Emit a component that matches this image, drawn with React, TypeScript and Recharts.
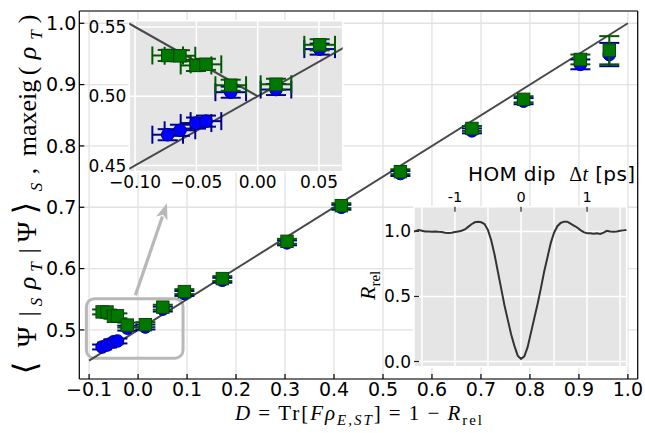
import React from 'react';
import { ScatterChart, Scatter, XAxis, YAxis, CartesianGrid, ErrorBar, ReferenceArea, ReferenceLine } from 'recharts';

// ---- data ----
const dValues = [-0.0734, -0.0634, -0.0503, -0.0422, -0.022, 0.0149, 0.0505, 0.0945, 0.172, 0.304, 0.415, 0.5355, 0.6816, 0.787, 0.903, 0.962];
const maxeigValues = [0.5294, 0.5292, 0.5222, 0.523, 0.5079, 0.5086, 0.5371, 0.5625, 0.5837, 0.6445, 0.7026, 0.758, 0.8285, 0.876, 0.941, 0.956];
const fidelityValues = [0.4722, 0.4754, 0.4806, 0.482, 0.5029, 0.5048, 0.534, 0.5595, 0.581, 0.642, 0.7, 0.755, 0.8246, 0.873, 0.933, 0.949];
const dErrors = [0.0125, 0.0125, 0.0125, 0.0125, 0.0125, 0.0125, 0.0125, 0.0125, 0.0125, 0.0125, 0.0125, 0.0125, 0.0125, 0.0125, 0.0125, 0.0125];
const maxeigErrors = [0.004, 0.004, 0.004, 0.004, 0.004, 0.004, 0.004, 0.004, 0.004, 0.004, 0.004, 0.004, 0.004, 0.005, 0.008, 0.023];
const fidelityErrors = [0.004, 0.004, 0.004, 0.004, 0.004, 0.004, 0.004, 0.004, 0.004, 0.004, 0.004, 0.004, 0.004, 0.005, 0.008, 0.019];

const diagX = [-0.1, 1.0];
const diagY = [0.45, 1.0];
const insetUpX = [-0.11, 0.075];
const insetUpY = [0.445, 0.5375];
const insetDownX = [-0.11, 0.0];
const insetDownY = [0.555, 0.5];

const homT = [-1.62, -1.55, -1.5, -1.45, -1.4, -1.35, -1.3, -1.25, -1.2, -1.15, -1.1, -1.05, -1.0, -0.95, -0.9, -0.85, -0.8, -0.75, -0.7, -0.65, -0.6, -0.55, -0.5, -0.45, -0.4, -0.35, -0.3, -0.25, -0.2, -0.15, -0.1, -0.05, 0, 0.05, 0.1, 0.15, 0.2, 0.25, 0.3, 0.35, 0.4, 0.45, 0.5, 0.55, 0.6, 0.65, 0.7, 0.75, 0.8, 0.85, 0.9, 0.95, 1.0, 1.05, 1.1, 1.15, 1.2, 1.25, 1.3, 1.35, 1.4, 1.45, 1.5, 1.55, 1.6];
const homR = [1.0, 1.01, 1.005, 1.0, 1.0, 0.998, 1.0, 0.997, 0.995, 0.99, 0.987, 0.99, 0.995, 1.0, 1.005, 1.015, 1.035, 1.055, 1.07, 1.075, 1.07, 1.055, 1.01, 0.93, 0.82, 0.69, 0.56, 0.43, 0.32, 0.21, 0.12, 0.045, 0.02, 0.04, 0.11, 0.22, 0.33, 0.44, 0.56, 0.69, 0.8, 0.91, 0.99, 1.04, 1.065, 1.075, 1.075, 1.06, 1.045, 1.03, 1.01, 0.995, 0.985, 0.985, 0.983, 0.985, 0.98, 0.99, 1.005, 1.0, 0.998, 1.0, 1.005, 1.008, 1.01];

const mainXTicks = [-0.1, 0, 0.1, 0.2, 0.3, 0.4, 0.5, 0.6, 0.7, 0.8, 0.9, 1.0];
const mainYTicks = [0.5, 0.6, 0.7, 0.8, 0.9, 1.0];
const insetXTicks = [-0.1, -0.05, 0, 0.05];
const insetYTicks = [0.45, 0.5, 0.55];
const homXTicks = [-1, 0, 1];
const homGridTicks = [-1.5, -1, -0.5, 0, 0.5, 1, 1.5];
const homYTicks = [0, 0.5, 1.0];

const mainXDomain = [-0.12, 1.02];
const mainYDomain = [0.42, 1.02];
const insetXDomain = [-0.1047, 0.0693];
const insetYDomain = [0.4455, 0.5545];
const homXDomain = [-1.62, 1.6];
const homYDomain = [-0.04, 1.19];

const zoomBoxX = [-0.1055, 0.0918];
const zoomBoxY = [0.454, 0.551];
const arrowFrom = { x: -0.0055, y: 0.5565 };
const arrowTo = { x: 0.059, y: 0.7064 };

// ---- derived tables ----
const pts = (ys: number[], es: number[]) => dValues.map((x, i) => ({ x, y: ys[i], ex: dErrors[i], ey: es[i] }));
const maxeigPts = pts(maxeigValues, maxeigErrors);
const fidelityPts = pts(fidelityValues, fidelityErrors);
const insetMax = maxeigPts.filter((p) => p.x < insetXDomain[1]);
const insetFid = fidelityPts.filter((p) => p.x < insetXDomain[1]);
const line = (xs: number[], ys: number[]) => xs.map((x, i) => ({ x, y: ys[i] }));
const diag = line(diagX, diagY);
const insetUp = line(insetUpX, insetUpY);
const insetDown = line(insetDownX, insetDownY);
const hom = line(homT, homR);

const fmt = (d: number) => (v: number) => v.toFixed(d).replace('-', '\u2212');
const SANS = 'DejaVu Sans';
const SERIF = "'Liberation Serif', 'DejaVu Serif', serif";

const BLUE = '#0000ff';
const BLUE_EDGE = '#00008b';
const GREEN = '#007800';
const GREEN_EDGE = '#0a450a';
const BLUE_ERR = '#00008b';
const GREEN_ERR = '#005a00';

const Circle = (p: any) => <circle cx={p.cx} cy={p.cy} r={6.3} fill={BLUE} stroke={BLUE_EDGE} strokeWidth={1} />;
const Square = (p: any) => (
  <rect x={p.cx - 6.2} y={p.cy - 6.2} width={12.4} height={12.4} fill={GREEN} stroke={GREEN_EDGE} strokeWidth={1} />
);
const NoShape = () => <g />;

const RoundBox = (p: any) => (
  <rect x={p.x} y={p.y} width={p.width} height={p.height} rx={8} ry={8} fill="none" stroke="#b8b8b8" strokeWidth={3} />
);
const Arrow = (p: any) => {
  const { x1, y1, x2, y2 } = p;
  const dx = x2 - x1;
  const dy = y2 - y1;
  const len = Math.sqrt(dx * dx + dy * dy) || 1;
  const ux = dx / len;
  const uy = dy / len;
  const hl = 16;
  const hw = 6;
  const bx = x2 - ux * hl;
  const by = y2 - uy * hl;
  return (
    <g>
      <line x1={x1} y1={y1} x2={bx + ux * 2} y2={by + uy * 2} stroke="#b8b8b8" strokeWidth={3.2} />
      <polygon
        points={`${x2},${y2} ${bx - uy * hw},${by + ux * hw} ${bx + ux * 4},${by + uy * 4} ${bx + uy * hw},${by - ux * hw}`}
        fill="#b8b8b8"
      />
    </g>
  );
};

const mainTick = { fontSize: 19, fill: '#000', fontFamily: SANS };
const insetTick = { fontSize: 17, fill: '#000', fontFamily: SANS };
const axisStroke = { stroke: '#000', strokeWidth: 1.2 };

const layer: React.CSSProperties = { position: 'absolute', left: 0, top: 0 };

type Rect = { left: number; top: number; right: number; bottom: number };
const MAIN_RECT: Rect = { left: 79.3, top: 11, right: 637.7, bottom: 379 };
const INSET_RECT: Rect = { left: 129.3, top: 20.7, right: 342.7, bottom: 171.7 };

// A transparent overlay chart sharing the plot rectangle, used to stack series in matplotlib order
function PlotLayer({ rect, xDomain, yDomain, children }: { rect: Rect; xDomain: number[]; yDomain: number[]; children: React.ReactNode }) {
  return (
    <div style={layer}>
      <ScatterChart width={645} height={433} margin={{ top: rect.top, left: rect.left, right: 645 - rect.right, bottom: 433 - rect.bottom }}>
        <XAxis hide type="number" dataKey="x" domain={xDomain} allowDataOverflow />
        <YAxis hide type="number" dataKey="y" domain={yDomain} allowDataOverflow />
        {children}
      </ScatterChart>
    </div>
  );
}

function SeriesStack({ rect, xDomain, yDomain, fid, max, xErr }: { rect: Rect; xDomain: number[]; yDomain: number[]; fid: any[]; max: any[]; xErr: boolean }) {
  return (
    <>
      <PlotLayer rect={rect} xDomain={xDomain} yDomain={yDomain}>
        <Scatter data={fid} shape={NoShape} isAnimationActive={false}>
          {xErr ? <ErrorBar dataKey="ex" direction="x" width={9} stroke={BLUE_ERR} strokeWidth={2} /> : null}
          <ErrorBar dataKey="ey" direction="y" width={10} stroke={BLUE_ERR} strokeWidth={2} />
        </Scatter>
      </PlotLayer>
      <PlotLayer rect={rect} xDomain={xDomain} yDomain={yDomain}>
        <Scatter data={fid} shape={Circle} isAnimationActive={false} />
      </PlotLayer>
      <PlotLayer rect={rect} xDomain={xDomain} yDomain={yDomain}>
        <Scatter data={max} shape={NoShape} isAnimationActive={false}>
          {xErr ? <ErrorBar dataKey="ex" direction="x" width={9} stroke={GREEN_ERR} strokeWidth={2} /> : null}
          <ErrorBar dataKey="ey" direction="y" width={10} stroke={GREEN_ERR} strokeWidth={2} />
        </Scatter>
      </PlotLayer>
      <PlotLayer rect={rect} xDomain={xDomain} yDomain={yDomain}>
        <Scatter data={max} shape={Square} isAnimationActive={false} />
      </PlotLayer>
    </>
  );
}

export default function App() {
  return (
    <div style={{ position: 'absolute', left: 0, top: 0, width: 645, height: 433, background: '#fff', overflow: 'hidden' }}>
      {/* main chart: frame, grid, ticks, diagonal, zoom box, arrow */}
      <div style={layer}>
        <ScatterChart width={645} height={433} margin={{ top: 6, right: 2.3, bottom: 14, left: 19.3 }}>
          <CartesianGrid stroke="#e2e2e2" strokeWidth={1.3} />
          <XAxis type="number" dataKey="x" domain={mainXDomain} ticks={mainXTicks} allowDataOverflow height={40}
            tickSize={-5} tickMargin={9} tickFormatter={fmt(1)} tick={mainTick} axisLine={axisStroke} tickLine={axisStroke} />
          <XAxis xAxisId="top" orientation="top" type="number" dataKey="x" domain={mainXDomain} ticks={mainXTicks} allowDataOverflow
            height={5} tickSize={-5} tick={false} axisLine={axisStroke} tickLine={axisStroke} />
          <YAxis type="number" dataKey="y" domain={mainYDomain} ticks={mainYTicks} allowDataOverflow width={60}
            tickSize={-5} tickMargin={8} tickFormatter={fmt(1)} tick={mainTick} axisLine={axisStroke} tickLine={axisStroke} />
          <YAxis yAxisId="right" orientation="right" type="number" dataKey="y" domain={mainYDomain} ticks={mainYTicks} allowDataOverflow
            width={5} tickSize={-5} tick={false} axisLine={axisStroke} tickLine={axisStroke} />
          <ReferenceArea x1={zoomBoxX[0]} x2={zoomBoxX[1]} y1={zoomBoxY[0]} y2={zoomBoxY[1]} shape={RoundBox} fill="none" />
          <ReferenceLine segment={[arrowFrom, arrowTo]} shape={Arrow} />
          <Scatter data={diag} line={{ stroke: '#484848', strokeWidth: 2 }} shape={NoShape} isAnimationActive={false} />
        </ScatterChart>
      </div>
      <SeriesStack rect={MAIN_RECT} xDomain={mainXDomain} yDomain={mainYDomain} fid={fidelityPts} max={maxeigPts} xErr={false} />

      {/* zoom inset */}
      <div style={layer}>
        <ScatterChart width={645} height={433} margin={{ top: 20.7, right: 302.3, bottom: 231.3, left: 89.3 }}>
          <CartesianGrid fill="#e5e5e5" fillOpacity={1} stroke="#ffffff" strokeWidth={1.5} />
          <XAxis type="number" dataKey="x" domain={insetXDomain} ticks={insetXTicks} allowDataOverflow height={30}
            tickSize={0} tickMargin={4} tickFormatter={fmt(2)} tick={insetTick} axisLine={false} tickLine={false} />
          <YAxis type="number" dataKey="y" domain={insetYDomain} ticks={insetYTicks} allowDataOverflow width={40}
            tickSize={0} tickMargin={3} tickFormatter={fmt(2)} tick={insetTick} axisLine={false} tickLine={false} />
          <Scatter data={insetUp} line={{ stroke: '#484848', strokeWidth: 2 }} shape={NoShape} isAnimationActive={false} />
          <Scatter data={insetDown} line={{ stroke: '#484848', strokeWidth: 2 }} shape={NoShape} isAnimationActive={false} />
          <ReferenceArea fill="none" fillOpacity={0} stroke="#1a1a1a" strokeWidth={1.5} />
        </ScatterChart>
      </div>
      <SeriesStack rect={INSET_RECT} xDomain={insetXDomain} yDomain={insetYDomain} fid={insetFid} max={insetMax} xErr={true} />

      {/* HOM inset */}
      <div style={layer}>
        <ScatterChart width={645} height={433} margin={{ top: 176.7, right: 18.3, bottom: 66.3, left: 374 }}>
          <CartesianGrid xAxisId="grid" fill="#e5e5e5" fillOpacity={1} stroke="#ffffff" strokeWidth={1.5} />
          <XAxis xAxisId="grid" type="number" dataKey="x" domain={homXDomain} ticks={homGridTicks} allowDataOverflow hide />
          <XAxis xAxisId="lab" orientation="top" type="number" dataKey="x" domain={homXDomain} ticks={homXTicks} allowDataOverflow
            height={30} tickSize={-5} tickMargin={10} tick={{ fontSize: 14.5, fill: '#000', fontFamily: SANS }}
            axisLine={false} tickLine={{ stroke: '#222', strokeWidth: 1.2 }} />
          <YAxis type="number" dataKey="y" domain={homYDomain} ticks={homYTicks} allowDataOverflow width={40}
            tickSize={-5} tickMargin={8} tickFormatter={fmt(1)} tick={insetTick} axisLine={false}
            tickLine={{ stroke: '#222', strokeWidth: 1.2 }} />
          <Scatter xAxisId="lab" data={hom} line={{ stroke: '#333', strokeWidth: 2 }} shape={NoShape} isAnimationActive={false} />
          <ReferenceArea xAxisId="lab" fill="none" fillOpacity={0} stroke="#1a1a1a" strokeWidth={1.5} />
        </ScatterChart>
      </div>

      {/* axis titles */}
      <svg width={645} height={433} style={{ ...layer, pointerEvents: 'none' }}>
        <text x={235} y={420} fontFamily={SERIF} fontSize={21} fill="#000" textLength={247} lengthAdjust="spacing">
          <tspan fontStyle="italic">D</tspan>
          <tspan>{'\u2009=\u2009Tr['}</tspan>
          <tspan fontStyle="italic">{'F\u03c1'}</tspan>
          <tspan fontStyle="italic" fontSize={15} dy={5}>{'E,ST'}</tspan>
          <tspan dy={-5}>{']\u2009=\u20091\u2009\u2212\u2009'}</tspan>
          <tspan fontStyle="italic">R</tspan>
          <tspan fontSize={15} dy={5}>rel</tspan>
        </text>
        <text transform="translate(36,380) rotate(-90)" fontFamily={SERIF} fontSize={26} fill="#000" textAnchor="middle">
          <tspan x={12} y={0} fontSize={32} fontFamily="DejaVu Serif">{'\u27e8'}</tspan>
          <tspan x={43} y={0} fontSize={28}>{'\u03a8'}</tspan>
          <tspan x={66} y={0}>|</tspan>
          <tspan x={78} y={6} fontStyle="italic" fontSize={17}>S</tspan>
          <tspan x={97} y={0} fontStyle="italic">{'\u03c1'}</tspan>
          <tspan x={113} y={6} fontStyle="italic" fontSize={17}>T</tspan>
          <tspan x={129} y={0}>|</tspan>
          <tspan x={148} y={0} fontSize={28}>{'\u03a8'}</tspan>
          <tspan x={172} y={0} fontSize={32} fontFamily="DejaVu Serif">{'\u27e9'}</tspan>
          <tspan x={193} y={6} fontStyle="italic" fontSize={17}>S</tspan>
          <tspan x={209} y={0}>,</tspan>
          <tspan x={262} y={0}>maxeig</tspan>
          <tspan x={309} y={0}>(</tspan>
          <tspan x={327} y={0} fontStyle="italic">{'\u03c1'}</tspan>
          <tspan x={345} y={6} fontStyle="italic" fontSize={17}>T</tspan>
          <tspan x={361} y={0}>)</tspan>
        </text>
        <text x={468} y={181} fontFamily={SANS} fontSize={20} fill="#000" textLength={167} lengthAdjust="spacing">
          <tspan>{'HOM dip\u00a0\u00a0'}</tspan>
          <tspan fontFamily={SERIF}>{'\u0394'}</tspan>
          <tspan fontFamily={SERIF} fontStyle="italic">t</tspan>
          <tspan>{'\u00a0[ps]'}</tspan>
        </text>
        <text transform="translate(375,300) rotate(-90)" fontFamily={SERIF} fontSize={22} fill="#000">
          <tspan fontStyle="italic">R</tspan>
          <tspan fontSize={15} dy={5}>rel</tspan>
        </text>
      </svg>
    </div>
  );
}
